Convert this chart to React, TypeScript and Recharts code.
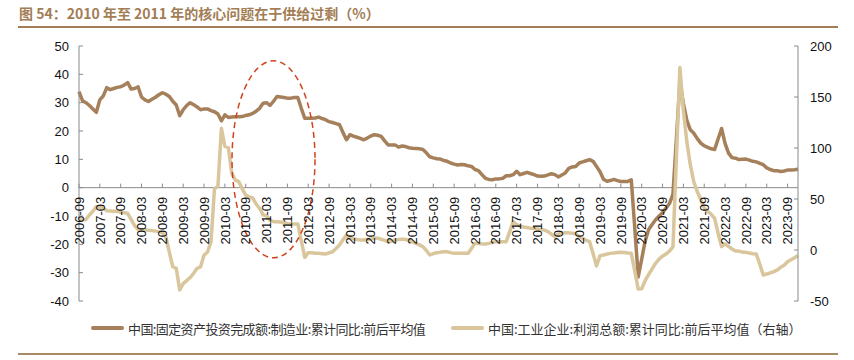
import React from 'react';
import { LineChart, Line, XAxis, YAxis, ReferenceLine, ReferenceDot } from 'recharts';

// ---------- data ----------
const START_YEAR = 2006;
const START_MONTH = 9;

// 中国:固定资产投资完成额:制造业:累计同比:前后平均值 (left axis, %)
const FAI_2006 = [33.9, 30.7, 30.0, 29.0];
const FAI_2007 = [27.8, 26.6, 31.0, 32.4, 35.3, 34.6, 35.0, 35.4, 35.6, 36.2, 37.1, 34.8];
const FAI_2008 = [35.0, 35.6, 32.0, 31.0, 30.4, 31.2, 31.9, 32.8, 33.5, 33.0, 32.2, 30.5];
const FAI_2009 = [29.2, 25.4, 27.5, 29.0, 30.0, 29.3, 28.5, 27.5, 27.8, 27.8, 27.2, 26.8];
const FAI_2010 = [26.0, 23.6, 25.7, 24.8, 24.9, 25.0, 25.0, 25.1, 25.5, 25.7, 26.2, 27.0];
const FAI_2011 = [28.0, 29.8, 30.0, 29.0, 30.5, 32.2, 32.0, 31.8, 31.6, 31.6, 31.8, 31.8];
const FAI_2012 = [28.0, 24.5, 24.5, 24.5, 24.6, 24.9, 24.4, 24.0, 23.3, 23.0, 22.6, 22.2];
const FAI_2013 = [19.5, 16.9, 18.7, 18.2, 17.8, 17.4, 16.9, 17.5, 18.2, 18.7, 18.5, 18.1];
const FAI_2014 = [16.5, 15.1, 15.1, 15.1, 14.3, 14.7, 14.5, 14.1, 13.9, 13.8, 13.7, 13.5];
const FAI_2015 = [12.3, 10.9, 10.5, 10.2, 10.1, 9.6, 9.3, 8.7, 8.3, 8.0, 8.2, 8.1];
const FAI_2016 = [7.7, 7.5, 6.4, 6.0, 4.6, 3.3, 2.9, 2.8, 3.1, 3.1, 3.3, 4.2];
const FAI_2017 = [4.2, 4.6, 5.8, 4.6, 5.0, 5.4, 5.0, 4.6, 4.1, 4.0, 4.1, 4.5];
const FAI_2018 = [4.9, 4.6, 3.8, 4.5, 5.2, 6.8, 7.3, 7.5, 8.7, 9.1, 9.5, 9.9];
const FAI_2019 = [9.3, 7.5, 5.6, 3.0, 2.3, 2.5, 2.9, 2.5, 2.2, 2.2, 2.2, 2.8];
const FAI_2020 = [-14.2, -31.5, -25.2, -18.8, -14.8, -13.0, -11.3, -10.0, -8.9, -7.2, -5.6, -2.3];
const FAI_2021 = [17.5, 37.3, 29.8, 23.8, 20.4, 19.2, 17.3, 15.7, 14.8, 14.2, 13.7, 13.5];
const FAI_2022 = [17.2, 20.9, 15.6, 12.2, 10.6, 10.4, 9.9, 10.0, 10.1, 9.7, 9.3, 9.1];
const FAI_2023 = [8.6, 8.1, 7.0, 6.4, 6.0, 6.0, 5.7, 5.9, 6.2, 6.2, 6.3, 6.5];

// 中国:工业企业:利润总额:累计同比:前后平均值 (right axis, %)
const PROFIT_2006 = [29.5, 29.5, 30.0, 34.3];
const PROFIT_2007 = [38.0, 42.5, 42.0, 41.0, 38.5, 38.3, 38.0, 38.0, 37.0, 36.5, 36.0, 30.0];
const PROFIT_2008 = [24.0, 20.3, 20.0, 19.8, 19.3, 19.0, 18.5, 18.0, 17.0, 13.0, -2.0, -16.4];
const PROFIT_2009 = [-18.0, -39.2, -33.0, -30.0, -27.0, -22.8, -18.0, -16.4, -5.0, -2.0, 8.0, 60.0];
const PROFIT_2010 = [62.5, 119.3, 101.5, 100.3, 75.0, 68.5, 67.0, 60.0, 53.9, 52.0, 51.0, 45.0];
const PROFIT_2011 = [40.9, 34.5, 33.5, 29.0, 27.8, 27.8, 27.5, 26.8, 26.0, 25.5, 25.5, 25.5];
const PROFIT_2012 = [9.0, -7.2, -2.6, -2.8, -3.1, -3.3, -3.6, -3.9, -2.8, -1.7, 1.5, 4.9];
const PROFIT_2013 = [10.0, 14.7, 12.5, 11.0, 10.3, 9.8, 9.8, 10.2, 10.5, 12.1, 11.5, 10.5];
const PROFIT_2014 = [9.5, 8.2, 8.5, 9.8, 10.2, 10.5, 10.5, 9.2, 8.0, 6.5, 5.0, 3.3];
const PROFIT_2015 = [-0.5, -4.9, -3.5, -2.6, -2.2, -1.7, -1.7, -2.6, -3.3, -3.3, -3.3, -3.3];
const PROFIT_2016 = [-3.3, 1.5, 6.5, 6.3, 6.0, 5.9, 6.5, 7.5, 8.2, 8.2, 8.2, 8.2];
const PROFIT_2017 = [18.0, 27.8, 25.0, 23.5, 22.5, 22.0, 21.3, 21.0, 20.5, 20.0, 19.5, 18.0];
const PROFIT_2018 = [15.5, 13.0, 15.7, 16.5, 17.0, 16.8, 16.4, 16.0, 13.0, 11.5, 9.5, 8.2];
const PROFIT_2019 = [-3.5, -15.7, -5.5, -4.9, -4.0, -3.3, -3.0, -2.5, -2.3, -2.5, -3.0, -3.3];
const PROFIT_2020 = [-20.5, -38.3, -38.0, -30.0, -24.0, -18.5, -13.0, -9.0, -6.0, -4.0, -1.0, 3.0];
const PROFIT_2021 = [91.0, 179.0, 137.0, 106.0, 83.4, 66.9, 57.3, 49.5, 41.0, 38.0, 35.0, 31.0];
const PROFIT_2022 = [16.4, 3.3, 5.9, 3.5, 1.0, -1.0, -1.1, -2.1, -2.3, -3.0, -3.6, -4.0];
const PROFIT_2023 = [-14.0, -24.5, -23.5, -22.5, -21.3, -19.8, -17.0, -15.0, -11.5, -9.5, -7.5, -5.5];

const FAI = [
  FAI_2006, FAI_2007, FAI_2008, FAI_2009, FAI_2010, FAI_2011, FAI_2012, FAI_2013, FAI_2014,
  FAI_2015, FAI_2016, FAI_2017, FAI_2018, FAI_2019, FAI_2020, FAI_2021, FAI_2022, FAI_2023,
].flat();
const PROFIT = [
  PROFIT_2006, PROFIT_2007, PROFIT_2008, PROFIT_2009, PROFIT_2010, PROFIT_2011, PROFIT_2012,
  PROFIT_2013, PROFIT_2014, PROFIT_2015, PROFIT_2016, PROFIT_2017, PROFIT_2018, PROFIT_2019,
  PROFIT_2020, PROFIT_2021, PROFIT_2022, PROFIT_2023,
].flat();

const LEFT_TICKS = [-40, -30, -20, -10, 0, 10, 20, 30, 40, 50];
const RIGHT_TICKS = [-50, 0, 50, 100, 150, 200];

const TITLE = '图 54：2010 年至 2011 年的核心问题在于供给过剩（%）';
const NAME_FAI = '中国:固定资产投资完成额:制造业:累计同比:前后平均值';
const NAME_PROFIT = '中国:工业企业:利润总额:累计同比:前后平均值（右轴）';

const MONTHS: string[] = FAI.map((_, i) => {
  const t = START_MONTH - 1 + i;
  const y = START_YEAR + Math.floor(t / 12);
  const m = (t % 12) + 1;
  return `${y}-${m < 10 ? '0' + m : m}`;
});

const data = MONTHS.map((month, i) => ({ month, fai: FAI[i], profit: PROFIT[i] }));

// ---------- layout / style ----------
const W = 854;
const H = 360;
const M_TOP = 46;
const X_H = 1;
const M_BOTTOM = 59 - X_H;
const M_LEFT = 19;
const M_RIGHT = 6;
const LEFT_W = 60;
const RIGHT_W = 50;
const PLOT_LEFT = M_LEFT + LEFT_W;
const PLOT_RIGHT = W - M_RIGHT - RIGHT_W;
const PLOT_H = H - M_TOP - M_BOTTOM - X_H;
const ZERO_Y = M_TOP + (PLOT_H * 50) / 90;

const GRAY = '#8a8a8a';
const BROWN = '#a5805a';
const TAN = '#d9c69c';
const TITLE_COLOR = '#a27d55';
const TICK_FONT = '"Liberation Sans", Arial, sans-serif';

const XTick = (props: any) => {
  const { x, payload } = props;
  return (
    <g>
      <line x1={x} x2={x} y1={ZERO_Y} y2={ZERO_Y - 4} stroke={GRAY} strokeWidth={1} />
      <text
        x={x}
        y={ZERO_Y + 9}
        transform={`rotate(-90, ${x}, ${ZERO_Y + 9})`}
        textAnchor="end"
        dy="0.36em"
        fontSize={13}
        fontFamily={TICK_FONT}
        fill="#111"
      >
        {payload.value}
      </text>
    </g>
  );
};

const LeftTick = (props: any) => {
  const { y, payload } = props;
  return (
    <g>
      <line x1={PLOT_LEFT} x2={PLOT_LEFT + 4} y1={y} y2={y} stroke={GRAY} strokeWidth={1} />
      <text x={PLOT_LEFT - 10} y={y} dy="0.36em" textAnchor="end" fontSize={13} fontFamily={TICK_FONT} fill="#111">
        {payload.value}
      </text>
    </g>
  );
};

const RightTick = (props: any) => {
  const { y, payload } = props;
  return (
    <g>
      <line x1={PLOT_RIGHT} x2={PLOT_RIGHT - 4} y1={y} y2={y} stroke={GRAY} strokeWidth={1} />
      <text x={PLOT_RIGHT + 12} y={y} dy="0.36em" textAnchor="start" fontSize={13} fontFamily={TICK_FONT} fill="#111">
        {payload.value}
      </text>
    </g>
  );
};

const EllipseMark = (props: any) => {
  const { cx, cy } = props;
  return (
    <ellipse cx={cx} cy={cy} rx={41.5} ry={98.5} fill="none" stroke="#d0431f" strokeWidth={1.5} strokeDasharray="6 4" />
  );
};

const LegendItem = ({ color, label, left, spacing }: { color: string; label: string; left: number; spacing: number }) => (
  <div style={{ position: 'absolute', left, top: 319, display: 'flex', alignItems: 'center', height: 18 }}>
    <div style={{ width: 33, height: 4, background: color, borderRadius: 2, marginRight: 4 }} />
    <span
      style={{
        fontSize: 13,
        letterSpacing: spacing,
        color: '#333',
        fontFamily: '"Noto Sans CJK SC", sans-serif',
        whiteSpace: 'nowrap',
      }}
    >
      {label}
    </span>
  </div>
);

export default function App() {
  return (
    <div style={{ position: 'absolute', left: 0, top: 0, width: W, height: H, background: '#fff', overflow: 'hidden' }}>
      <div
        style={{
          position: 'absolute',
          left: 19,
          top: 3,
          fontSize: 14,
          fontWeight: 700,
          color: TITLE_COLOR,
          fontFamily: '"Noto Sans CJK SC", sans-serif',
          whiteSpace: 'nowrap',
          lineHeight: '20px',
        }}
      >
        {TITLE}
      </div>
      <div style={{ position: 'absolute', left: 18, top: 26, width: 820, height: 1.5, background: TITLE_COLOR }} />
      <div style={{ position: 'absolute', left: 0, top: 0 }}>
        <LineChart width={W} height={H} data={data} margin={{ top: M_TOP, right: M_RIGHT, bottom: M_BOTTOM, left: M_LEFT }}>
          <XAxis
            dataKey="month"
            scale="point"
            padding={{ left: 0, right: 0 }}
            interval={5}
            height={X_H}
            axisLine={false}
            tickLine={false}
            tick={<XTick />}
          />
          <YAxis
            yAxisId="left"
            width={LEFT_W}
            domain={[-40, 50]}
            ticks={LEFT_TICKS}
            interval={0}
            tickLine={false}
            axisLine={{ stroke: GRAY }}
            tick={<LeftTick />}
          />
          <YAxis
            yAxisId="right"
            orientation="right"
            width={RIGHT_W}
            domain={[-50, 200]}
            ticks={RIGHT_TICKS}
            interval={0}
            tickLine={false}
            axisLine={{ stroke: GRAY }}
            tick={<RightTick />}
          />
          <ReferenceLine yAxisId="left" y={0} stroke={GRAY} strokeWidth={1} />
          <Line
            yAxisId="left"
            type="linear"
            dataKey="fai"
            stroke={BROWN}
            strokeWidth={3.5}
            dot={false}
            strokeLinejoin="round"
            isAnimationActive={false}
          />
          <Line
            yAxisId="right"
            type="linear"
            dataKey="profit"
            stroke={TAN}
            strokeWidth={3.5}
            dot={false}
            strokeLinejoin="round"
            isAnimationActive={false}
          />
          <ReferenceDot yAxisId="left" x="2011-05" y={10} r={1} shape={<EllipseMark />} />
        </LineChart>
      </div>
      <LegendItem color={BROWN} label={NAME_FAI} left={91} spacing={-0.6} />
      <LegendItem color={TAN} label={NAME_PROFIT} left={451} spacing={0} />
      <div style={{ position: 'absolute', left: 18, top: 353, width: 820, height: 2, background: '#a98a66' }} />
    </div>
  );
}
